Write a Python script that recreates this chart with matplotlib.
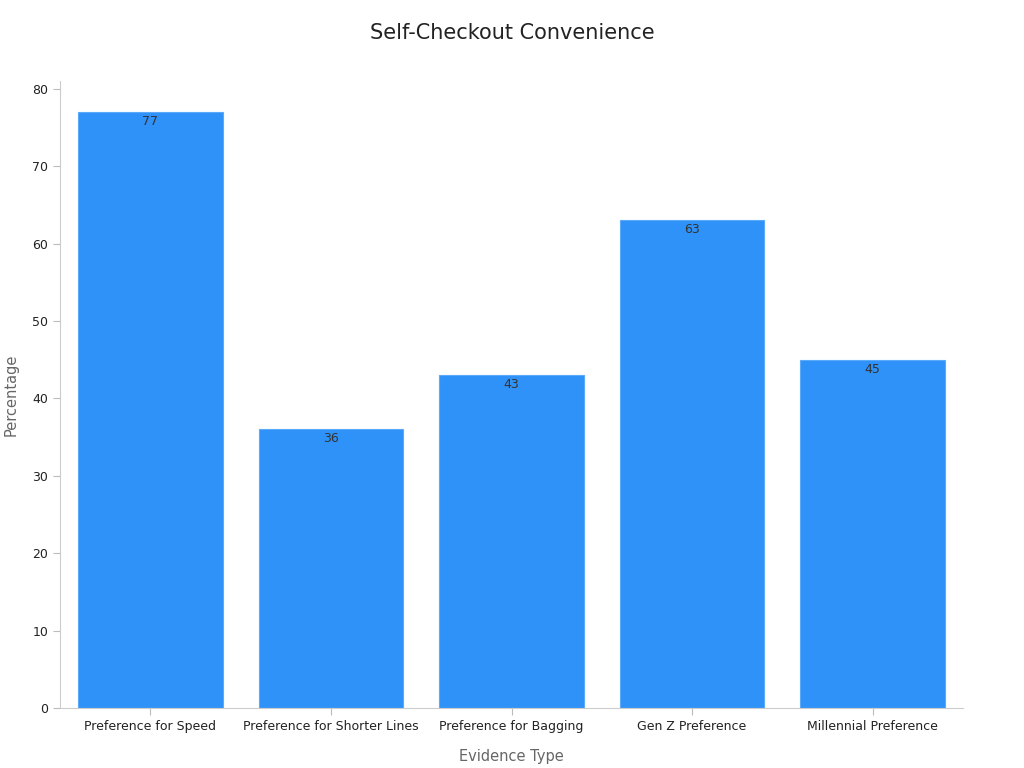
import matplotlib
matplotlib.use("Agg")
import matplotlib.pyplot as plt

categories = ["Preference for Speed", "Preference for Shorter Lines", "Preference for Bagging", "Gen Z Preference", "Millennial Preference"]
values = [77, 36, 43, 63, 45]
yticks = [0, 10, 20, 30, 40, 50, 60, 70, 80]

fig = plt.figure(figsize=(10.24, 7.68), dpi=100)
ax = fig.add_axes([60/1024, 60/768, 903/1024, 627/768])
x = range(len(categories))
bars = ax.bar(x, values, width=0.8, color="#2F92F8", edgecolor="#5AAAF9", linewidth=0.8)
for xi, v in zip(x, values):
    ax.text(xi, v - 0.4, str(v), ha="center", va="top", fontsize=9, color="#333333")
ax.set_xlim(-0.5, len(categories) - 0.5)
ax.set_ylim(0, 81)
ax.set_yticks(yticks)
ax.set_xticks(list(x))
ax.set_xticklabels(categories, fontsize=9, color="#222222")
ax.tick_params(axis="y", labelsize=9, colors="#222222", length=5, color="#bbbbbb")
ax.tick_params(axis="x", length=5, color="#bbbbbb")
for s in ["top", "right"]:
    ax.spines[s].set_visible(False)
for s in ["left", "bottom"]:
    ax.spines[s].set_color("#cccccc")
ax.set_xlabel("Evidence Type", fontsize=10.5, color="#666666", labelpad=12)
ax.set_ylabel("Percentage", fontsize=10.5, color="#666666", labelpad=10)
fig.text(0.5, 1 - 33/768, "Self-Checkout Convenience", ha="center", va="center", fontsize=15, color="#222222")
fig.savefig("out.png", dpi=100)
